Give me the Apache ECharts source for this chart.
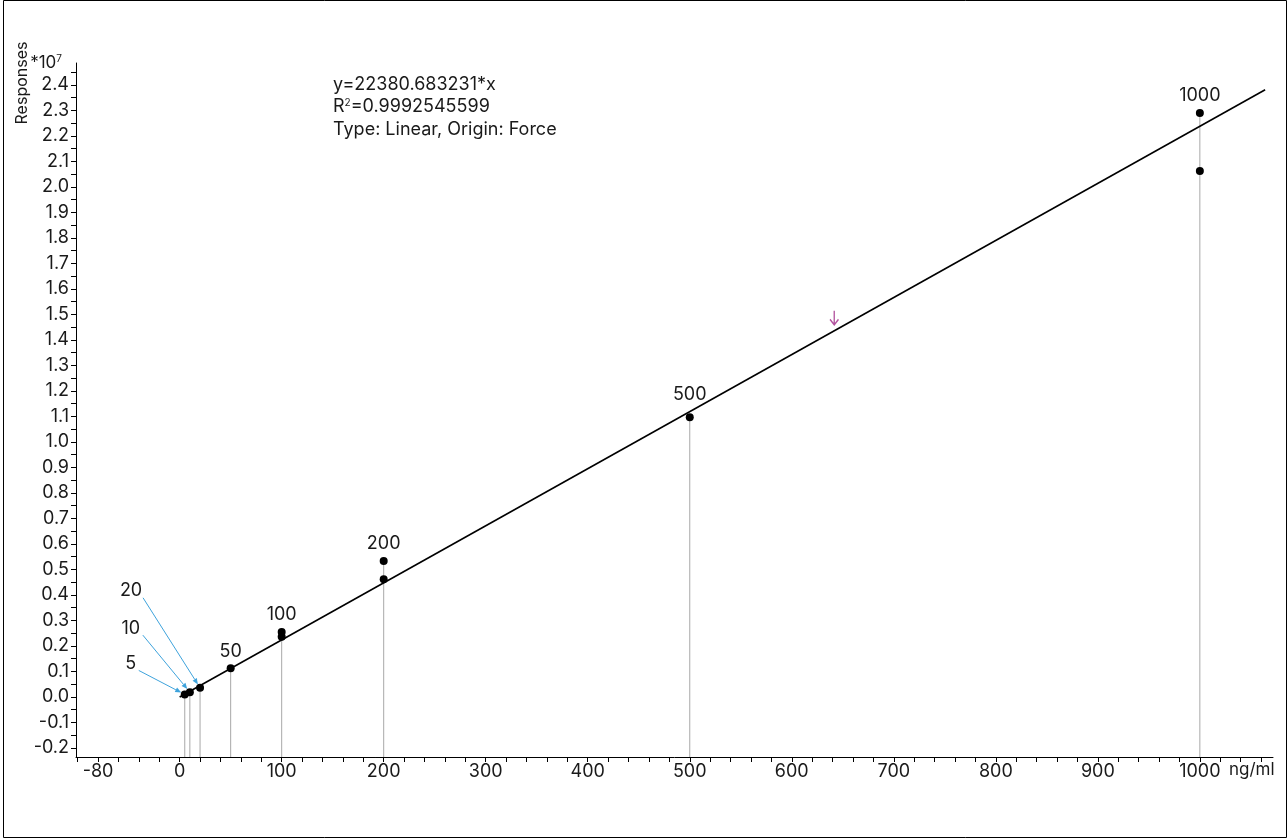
<!DOCTYPE html>
<html>
<head>
<meta charset="utf-8">
<title>Calibration curve</title>
<script src="https://cdn.jsdelivr.net/npm/echarts@6/dist/echarts.min.js"></script>
<style>
  html, body { margin: 0; padding: 0; background: #fff; }
  #chart { width: 1288px; height: 839px; }
</style>
</head>
<body>
<div id="chart"></div>
<script>
// Calibration standards: concentration (ng/ml) and measured response
const concentrations = [5, 10, 20, 50, 100, 100, 200, 200, 500, 1000, 1000];
const responses = [100000, 190000, 360000, 1130000, 2550000, 2360000, 5330000, 4620000, 10970000, 22900000, 20630000];

// Linear fit forced through the origin
const slope = 22380.683231;
const rSquared = '0.9992545599';
const fitRange = [0, 1064];

// Response of the measured sample (marked with an arrow on the curve)
const sampleResponses = [14360000];

// Axis labels (responses in units of 10^7)
const xLabelValues = [-80, 0, 100, 200, 300, 400, 500, 600, 700, 800, 900, 1000];
const yLabelValues = [-0.2, -0.1, 0.0, 0.1, 0.2, 0.3, 0.4, 0.5, 0.6, 0.7, 0.8, 0.9, 1.0,
  1.1, 1.2, 1.3, 1.4, 1.5, 1.6, 1.7, 1.8, 1.9, 2.0, 2.1, 2.2, 2.3, 2.4];

// Low standards labelled with leader arrows instead of above the point
const calloutLevels = [5, 10, 20];

const FONT = 'Inter, "Liberation Sans", Arial, sans-serif';
const TXT = '#1a1a1a';
const FS = 18;
const X_MIN = -101.6, X_MAX = 1071.7;
const Y_MIN = -2353000, Y_MAX = 24860000;

// tick marks every 20 ng/ml and every 0.05*10^7
const xTicks = [];
for (let v = -100; v <= 1060; v += 20) xTicks.push(v);
const yTicks = [];
for (let i = -4; i <= 49; i++) yTicks.push(i * 500000);

// highest response at each concentration level
const levels = [...new Set(concentrations)];
const topIndexByLevel = levels.map(c => {
  let bi = -1;
  concentrations.forEach((x, i) => { if (x === c && (bi < 0 || responses[i] > responses[bi])) bi = i; });
  return bi;
});
const topByLevel = topIndexByLevel.map(i => [concentrations[i], responses[i]]);
const topIndex = new Set(topIndexByLevel);

const pointData = concentrations.map((c, i) => {
  const item = { value: [c, responses[i]] };
  if (topIndex.has(i) && !calloutLevels.includes(c)) {
    item.label = { show: true, distance: c === 500 ? 10 : 4, color: TXT };
  }
  return item;
});

const chart = echarts.init(document.getElementById('chart'), null, { renderer: 'canvas' });

chart.setOption({
  animation: false,
  backgroundColor: '#fff',
  grid: { left: 76, right: 15, top: 63, bottom: 82 },
  xAxis: {
    type: 'value',
    min: X_MIN,
    max: X_MAX,
    axisLine: { onZero: false, lineStyle: { color: '#000', width: 1 } },
    axisTick: { show: true, length: 5, customValues: xTicks, lineStyle: { color: '#000' } },
    axisLabel: {
      customValues: xLabelValues, margin: 6, color: TXT, fontFamily: FONT, fontSize: FS,
      formatter: v => String(v)
    },
    splitLine: { show: false }
  },
  yAxis: {
    type: 'value',
    min: Y_MIN,
    max: Y_MAX,
    name: '*10{sup|7}',
    nameLocation: 'end',
    nameGap: 0,
    nameTextStyle: {
      align: 'right', verticalAlign: 'middle', padding: [0, 14, 0, 0],
      color: TXT, fontFamily: FONT, fontSize: 17,
      rich: { sup: { fontSize: 10, padding: [0, 0, 8, 0], fontFamily: FONT, color: TXT } }
    },
    axisLine: { onZero: false, lineStyle: { color: '#000', width: 1 } },
    axisTick: { show: true, length: 5, customValues: yTicks, lineStyle: { color: '#000' } },
    axisLabel: {
      customValues: yLabelValues.map(v => Math.round(v * 1e7)),
      margin: 7, color: TXT, fontFamily: FONT, fontSize: FS,
      formatter: v => (v / 1e7).toFixed(1)
    },
    splitLine: { show: false }
  },
  series: [
    {
      // drop lines from the axis up to each standard
      type: 'custom',
      silent: true,
      z: 1,
      data: topByLevel,
      renderItem: (params, api) => {
        const x = api.value(0);
        const p0 = api.coord([x, Y_MIN]);
        const p1 = api.coord([x, api.value(1)]);
        return {
          type: 'line',
          shape: { x1: p0[0], y1: p0[1], x2: p1[0], y2: p1[1] },
          style: { stroke: '#a8a8a8', lineWidth: 1 }
        };
      }
    },
    {
      // fitted calibration line y = slope * x
      type: 'line',
      silent: true,
      z: 2,
      symbol: 'none',
      data: fitRange.map(x => [x, slope * x]),
      lineStyle: { color: '#000', width: 1.6 }
    },
    {
      type: 'scatter',
      z: 3,
      symbol: 'circle',
      symbolSize: 8,
      itemStyle: { color: '#000', opacity: 1 },
      label: {
        show: false, position: 'top',
        color: TXT, fontFamily: FONT, fontSize: FS,
        formatter: p => String(p.value[0])
      },
      data: pointData
    },
    {
      // sample marker
      type: 'scatter',
      z: 4,
      symbol: 'path://M5,0 L5,13 M0,8 L5,13 L10,8',
      symbolSize: [11, 14],
      symbolKeepAspect: true,
      symbolOffset: [0, -13],
      itemStyle: { color: 'rgba(0,0,0,0)', borderColor: '#b3549f', borderWidth: 1.5, opacity: 1 },
      data: sampleResponses.map(r => [r / slope, r])
    }
  ]
});

// leader arrows for the low standards
const calloutOffsets = { 5: [-54, -31], 10: [-59, -64], 20: [-69, -97] };
const graphics = [];
calloutLevels.forEach(c => {
  const top = topByLevel.find(t => t[0] === c);
  const p = chart.convertToPixel({ gridIndex: 0 }, top);
  const off = calloutOffsets[c];
  const lx = p[0] + off[0], ly = p[1] + off[1];
  const sx = lx + (c === 5 ? 8 : 12), sy = ly + 7;
  const dx = p[0] - sx, dy = p[1] - sy;
  const len = Math.hypot(dx, dy);
  const ux = dx / len, uy = dy / len;
  const tx = p[0] - ux * 4, ty = p[1] - uy * 4;
  const bx = tx - ux * 6, by = ty - uy * 6;
  graphics.push({
    type: 'line', z: 5,
    shape: { x1: sx, y1: sy, x2: bx, y2: by },
    style: { stroke: '#3ea3dc', lineWidth: 1 }
  });
  graphics.push({
    type: 'polygon', z: 5,
    shape: { points: [[tx, ty], [bx - uy * 2.5, by + ux * 2.5], [bx + uy * 2.5, by - ux * 2.5]] },
    style: { fill: '#3ea3dc' }
  });
  graphics.push({
    type: 'text', z: 5, x: lx, y: ly,
    style: { text: String(c), fill: TXT, font: FS + 'px ' + FONT, align: 'center', verticalAlign: 'middle' }
  });
});

chart.setOption({
  graphic: [
    {
      type: 'rect', z: 0, silent: true,
      shape: { x: 3.5, y: 0.5, width: 1283, height: 837 },
      style: { fill: 'none', stroke: '#000', lineWidth: 1 }
    },
    {
      type: 'text', x: 22, y: 83, rotation: Math.PI / 2,
      style: { text: 'Responses', fill: TXT, font: '16px ' + FONT, align: 'center', verticalAlign: 'middle' }
    },
    {
      type: 'text', x: 1229, y: 770,
      style: { text: 'ng/ml', fill: TXT, font: '17px ' + FONT, align: 'left', verticalAlign: 'middle' }
    },
    {
      type: 'text', x: 333, y: 85,
      style: { text: 'y=' + slope + '*x', fill: TXT, font: FS + 'px ' + FONT, verticalAlign: 'middle' }
    },
    {
      type: 'text', x: 333, y: 107,
      style: {
        text: '{n|R}{s|2}{n|=' + rSquared + '}',
        verticalAlign: 'middle',
        rich: {
          n: { fill: TXT, fontFamily: FONT, fontSize: FS },
          s: { fill: TXT, fontFamily: FONT, fontSize: 10, padding: [0, 0, 9, 0] }
        }
      }
    },
    {
      type: 'text', x: 333, y: 130,
      style: { text: 'Type: Linear, Origin: Force', fill: TXT, font: FS + 'px ' + FONT, verticalAlign: 'middle' }
    }
  ].concat(graphics)
});
</script>
</body>
</html>
